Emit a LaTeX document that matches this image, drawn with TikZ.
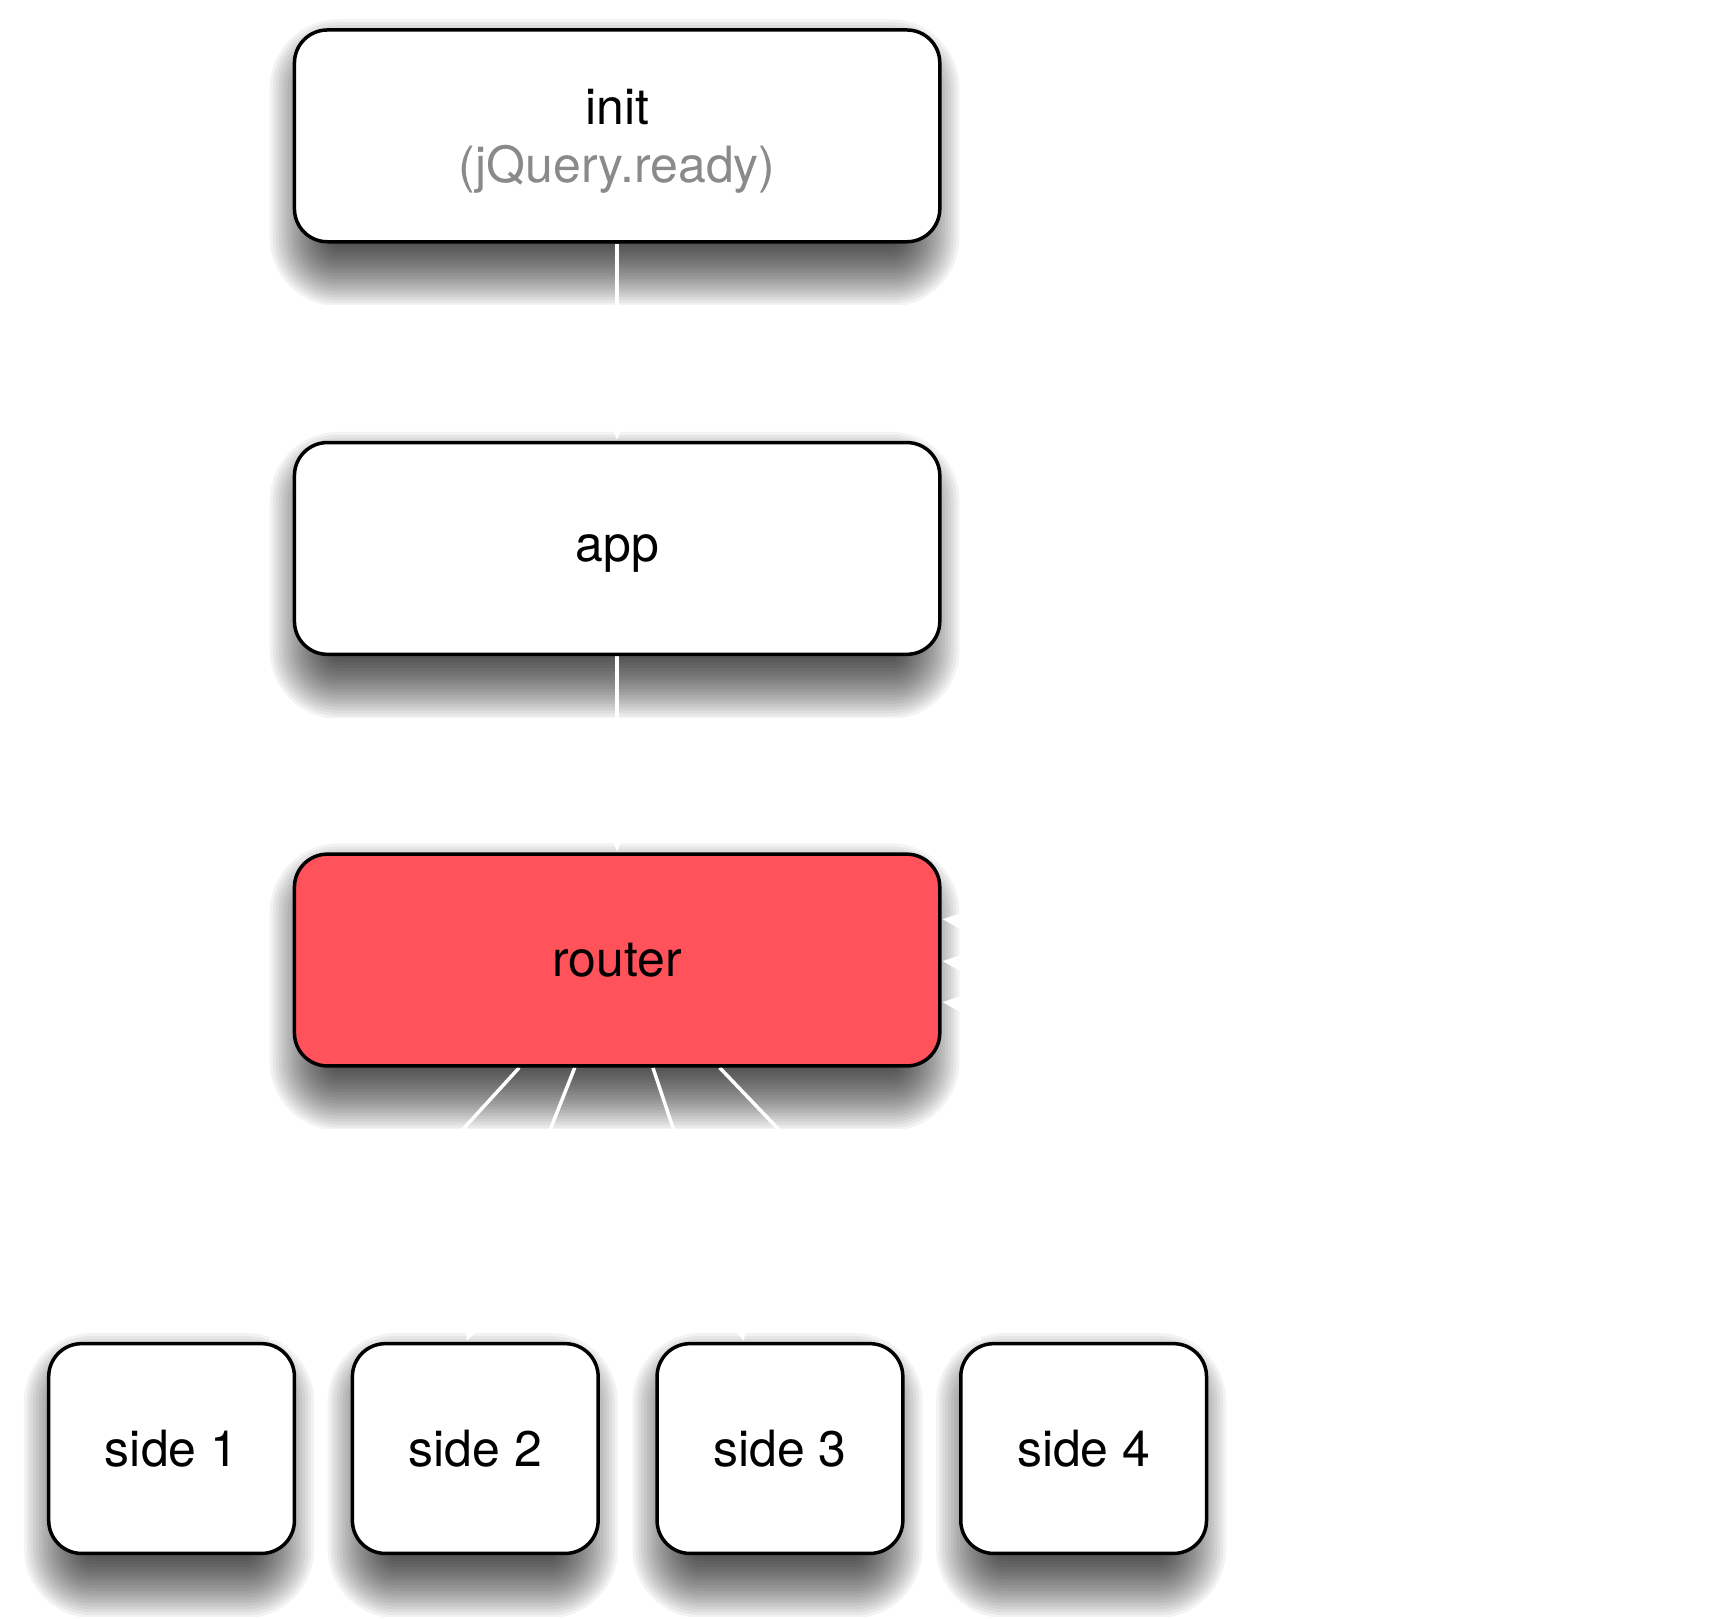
\documentclass[tikz,border=0pt]{standalone}
\usepackage{fontspec}
\setmainfont{TeX Gyre Heros}
\usetikzlibrary{arrows.meta}
\definecolor{routerred}{RGB}{255,82,90}
\definecolor{subgray}{RGB}{138,138,138}
\pgfdeclarelayer{bglayer}
\pgfdeclarelayer{shadowlayer}
\pgfdeclarelayer{linelayer}
\pgfsetlayers{bglayer,shadowlayer,linelayer,main}
\tikzset{
  box/.style={draw=black, line width=3.5pt, rounded corners=33pt, fill=white,
    minimum width=646pt, minimum height=212pt, inner sep=0pt, align=center,
    text depth=0pt, font=\fontsize{50}{58}\selectfont},
  sidebox/.style={box, minimum width=246pt, minimum height=210pt},
  conn/.style={draw=white, line width=3.5pt, -{Triangle[length=28pt,width=24pt]}, shorten >=1pt}
}
\newcommand\myshadow[1]{%
  \begin{scope}
    \clip ([xshift=-47pt,yshift=20pt]#1.north west) rectangle ([xshift=30pt,yshift=-61pt]#1.south east);
    \foreach \r in {-27,-24,...,36}{
      \pgfmathsetmacro\rc{max(33+\r,2)}
      \fill[black,opacity=0.047,rounded corners=\rc pt]
        ([xshift=-\r pt+13pt, yshift=-27pt+\r pt]#1.north west) rectangle
        ([xshift=\r pt-18pt, yshift=-27pt-\r pt]#1.south east);
    }
  \end{scope}}
\begin{document}
\begin{tikzpicture}[x=1pt,y=-1pt]
\begin{pgfonlayer}{bglayer}
\useasboundingbox[fill=white] (0,0) rectangle (1716,1620);
\end{pgfonlayer}
\node[box] (init) at (616,136) {init\\\textcolor{subgray}{(jQuery.ready)}};
\node[box] (app) at (616,549) {app};
\node[box, fill=routerred] (router) at (616,961) {router};
\node[sidebox] (s1) at (170,1450) {side 1};
\node[sidebox] (s2) at (474,1450) {side 2};
\node[sidebox] (s3) at (779,1450) {side 3};
\node[sidebox] (s4) at (1083,1450) {side 4};
\coordinate (in1) at (1350,960);
\coordinate (in2) at (1350,1002);
\coordinate (in3) at (1350,1043);
\begin{pgfonlayer}{shadowlayer}
  \myshadow{init}\myshadow{app}\myshadow{router}
  \myshadow{s1}\myshadow{s2}\myshadow{s3}\myshadow{s4}
\end{pgfonlayer}
\begin{pgfonlayer}{linelayer}
  \draw[conn] (init) -- (app);
  \draw[conn] (app) -- (router);
  \draw[conn] (router) -- (s1);
  \draw[conn] (router) -- ([xshift=-9pt]s2.north);
  \draw[conn] (router) -- (s3);
  \draw[conn] (router) -- (s4);
  \draw[conn] (in1) -- (router.east |- 0,920);
  \draw[conn] (in2) -- (router.east |- 0,962);
  \draw[conn] (in3) -- (router.east |- 0,1003);
\end{pgfonlayer}
\end{tikzpicture}
\end{document}
